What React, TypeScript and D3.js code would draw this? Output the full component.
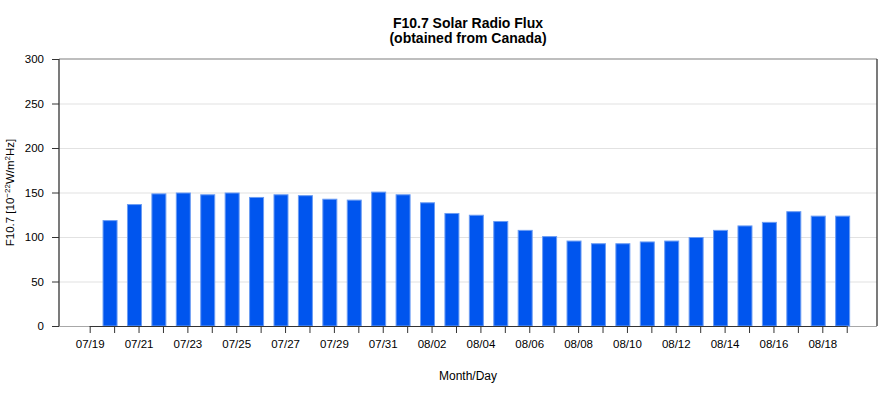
import { useEffect, useRef } from 'react';
import * as d3 from 'd3';

// F10.7 flux, one value per day from 07/19 to 08/18 (measured 20:00 UT)
const startDay = '2023-07-19';
const fluxValues = [
  119, 137, 149, 150, 148, 150, 145, 148, 147, 143, 142, 151, 148, 139, 127, 125,
  118, 108, 101, 96, 93, 93, 95, 96, 100, 108, 113, 117, 129, 124, 124,
];
const yTicks = [0, 50, 100, 150, 200, 250, 300];
const titleLines = ['F10.7 Solar Radio Flux', '(obtained from Canada)'];
const xLabel = 'Month/Day';

const DAY = 24 * 3600 * 1000;

const App = () => {
  const svgRef = useRef<SVGSVGElement>(null);

  useEffect(() => {
    if (!svgRef.current) return;
    const width = 886;
    const height = 400;
    const margin = { top: 59, right: 9, bottom: 74, left: 59 };
    const innerWidth = width - margin.left - margin.right;
    const innerHeight = height - margin.top - margin.bottom;
    const font = '"Liberation Sans", Arial, Helvetica, sans-serif';

    d3.select(svgRef.current).selectAll('*').remove();
    const svg = d3.select(svgRef.current)
      .attr('width', width)
      .attr('height', height)
      .style('font-family', font);

    const day0 = d3.utcParse('%Y-%m-%d')(startDay) as Date;
    const data = fluxValues.map((v, i) => ({
      date: new Date(day0.getTime() + i * DAY + 20 * 3600 * 1000),
      value: v,
    }));

    const xScale = d3.scaleUtc()
      .domain([new Date(day0.getTime() - 1.257 * DAY), new Date(day0.getTime() + 32.24 * DAY)])
      .range([0, innerWidth]);

    const yScale = d3.scaleLinear()
      .domain([0, 300])
      .range([innerHeight, 0]);

    const g = svg.append('g')
      .attr('transform', `translate(${margin.left},${margin.top})`);

    // gridlines
    g.selectAll('.grid')
      .data(yTicks.filter(t => t > 0 && t < 300))
      .enter()
      .append('line')
      .attr('x1', 0)
      .attr('x2', innerWidth)
      .attr('y1', d => yScale(d) + 0.5)
      .attr('y2', d => yScale(d) + 0.5)
      .attr('stroke', '#e2e2e2')
      .attr('stroke-width', 1.2);

    // plot outline
    g.append('line')
      .attr('x1', 0).attr('x2', innerWidth)
      .attr('y1', 0).attr('y2', 0)
      .attr('stroke', '#a8a8a8')
      .attr('stroke-width', 1.6);
    g.append('line')
      .attr('x1', 0).attr('x2', innerWidth)
      .attr('y1', innerHeight + 0.5).attr('y2', innerHeight + 0.5)
      .attr('stroke', '#a8a8a8')
      .attr('stroke-width', 1);
    g.append('line')
      .attr('x1', innerWidth).attr('x2', innerWidth)
      .attr('y1', 0).attr('y2', innerHeight)
      .attr('stroke', '#333')
      .attr('stroke-width', 1.3);

    // bars
    const halfBar = 0.307 * DAY;
    g.selectAll('.bar')
      .data(data)
      .enter()
      .append('rect')
      .attr('class', 'bar')
      .attr('x', d => xScale(new Date(d.date.getTime() - halfBar)) + 0.5)
      .attr('width', d => xScale(new Date(d.date.getTime() + halfBar)) - xScale(new Date(d.date.getTime() - halfBar)) - 1)
      .attr('y', d => yScale(d.value) + 0.5)
      .attr('height', d => innerHeight - yScale(d.value) - 0.5)
      .attr('fill', '#0055ee')
      .attr('stroke', '#6b9cf3')
      .attr('stroke-width', 1);

    // x axis
    const tickDays = d3.utcDay.range(day0, new Date(day0.getTime() + 31.5 * DAY));
    const fmt = d3.utcFormat('%m/%d');
    const xAxis = d3.axisBottom(xScale)
      .tickValues(tickDays)
      .tickSize(7)
      .tickPadding(7)
      .tickFormat((d, i) => (i % 2 === 0 ? fmt(d as Date) : ''));

    const xg = g.append('g')
      .attr('transform', `translate(0,${innerHeight})`)
      .call(xAxis);
    xg.select('.domain').remove();
    xg.selectAll('line').attr('stroke', '#333');
    xg.selectAll('text')
      .attr('fill', '#000')
      .style('font-size', '11.5px')
      .style('font-family', font);
    xg.append('line')
      .attr('x1', xScale(tickDays[0]))
      .attr('x2', xScale(tickDays[tickDays.length - 1]))
      .attr('y1', 0.5).attr('y2', 0.5)
      .attr('stroke', '#333');

    // y axis
    const yAxis = d3.axisLeft(yScale)
      .tickValues(yTicks)
      .tickSize(7)
      .tickPadding(8)
      .tickFormat(d => `${d}`);
    const yg = g.append('g').call(yAxis);
    yg.select('.domain').remove();
    yg.selectAll('line').attr('stroke', '#333');
    yg.selectAll('text')
      .attr('fill', '#000')
      .style('font-size', '11.5px')
      .style('font-family', font);
    yg.append('line')
      .attr('x1', 0).attr('x2', 0)
      .attr('y1', 0).attr('y2', innerHeight)
      .attr('stroke', '#333')
      .attr('stroke-width', 1.3);

    // title
    const cx = margin.left + innerWidth / 2;
    svg.append('text')
      .attr('x', cx)
      .attr('y', 28)
      .attr('text-anchor', 'middle')
      .style('font-size', '14px')
      .style('font-weight', 'bold')
      .text(titleLines[0]);
    svg.append('text')
      .attr('x', cx)
      .attr('y', 43)
      .attr('text-anchor', 'middle')
      .style('font-size', '14px')
      .style('font-weight', 'bold')
      .text(titleLines[1]);

    // x label
    svg.append('text')
      .attr('x', cx)
      .attr('y', 380)
      .attr('text-anchor', 'middle')
      .style('font-size', '12px')
      .text(xLabel);

    // y label with superscripts
    const yl = svg.append('text')
      .attr('text-anchor', 'middle')
      .attr('transform', `translate(14,${margin.top + innerHeight / 2}) rotate(-90)`)
      .style('font-size', '11.5px');
    yl.append('tspan').text('F10.7 [10');
    yl.append('tspan').attr('dy', -4).style('font-size', '8px').text('−22');
    yl.append('tspan').attr('dy', 4).text('W/m');
    yl.append('tspan').attr('dy', -4).style('font-size', '8px').text('2');
    yl.append('tspan').attr('dy', 4).text('Hz]');
  }, []);

  return (
    <div style={{ position: 'absolute', left: 0, top: 0 }}>
      <svg ref={svgRef} style={{ display: 'block' }}></svg>
    </div>
  );
};

export default App;
